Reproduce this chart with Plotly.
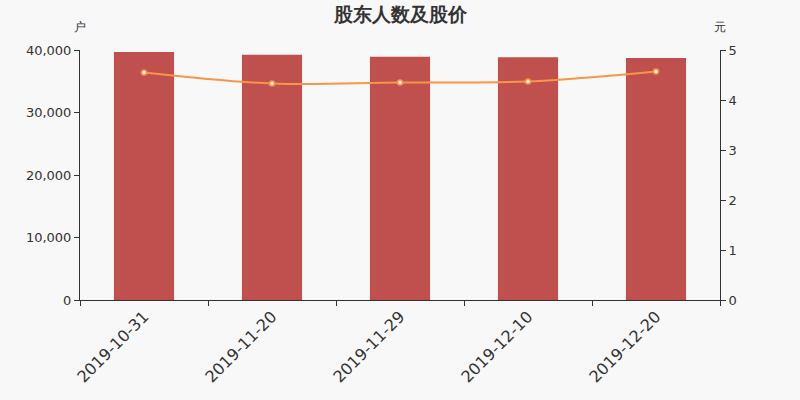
import plotly.graph_objects as go

dates = ['2019-10-31', '2019-11-20', '2019-11-29', '2019-12-10', '2019-12-20']
holders = [39680, 39250, 38930, 38830, 38720]
price = [4.55, 4.33, 4.35, 4.37, 4.57]

fig = go.Figure()
fig.add_trace(go.Bar(x=dates, y=holders, name='股东人数', marker_color='#c0504d',
                     marker_line_width=0, width=0.47))
fig.add_trace(go.Scatter(x=dates, y=price, name='股价', yaxis='y2', mode='lines+markers',
                         line=dict(color='#f79646', width=2, shape='spline'),
                         marker=dict(size=5, color='white', line=dict(color='#f79646', width=1.5))))

fig.update_layout(
    width=800, height=400,
    margin=dict(l=80, r=80, t=50, b=100),
    plot_bgcolor='#f8f8f8',
    paper_bgcolor='#f8f8f8',
    font=dict(family='DejaVu Sans', color='#333333', size=13),
    title=dict(text='<b>股东人数及股价</b>', x=0.5, xanchor='center', y=0.965, yanchor='middle',
               font=dict(size=19, color='#333333')),
    showlegend=False,
    xaxis=dict(type='category', tickangle=-45, tickfont=dict(size=16), tickson='boundaries',
               ticks='outside', ticklen=5, tickcolor='#333333', showline=True, linecolor='#333333',
               showgrid=False, zeroline=False),
    yaxis=dict(range=[0, 40000], dtick=10000, tickformat=',', ticks='outside', ticklen=5,
               tickcolor='#333333', showline=True, linecolor='#333333', showgrid=False,
               zeroline=False),
    yaxis2=dict(range=[0, 5], dtick=1, overlaying='y', side='right', ticks='outside', ticklen=5,
                tickcolor='#333333', showline=True, linecolor='#333333', showgrid=False,
                zeroline=False),
    annotations=[
        dict(text='户', xref='paper', yref='paper', x=0, y=1.09, showarrow=False,
             xanchor='center', yanchor='middle', font=dict(size=12, color='#333333')),
        dict(text='元', xref='paper', yref='paper', x=1, y=1.09, showarrow=False,
             xanchor='center', yanchor='middle', font=dict(size=12, color='#333333')),
    ],
)

# page body has an 8px white margin by default, drop it so the figure sits at 0,0
fig.write_html('out.html', config={'displayModeBar': False},
               post_script="document.body.style.margin='0';document.body.style.background='#f8f8f8';")
